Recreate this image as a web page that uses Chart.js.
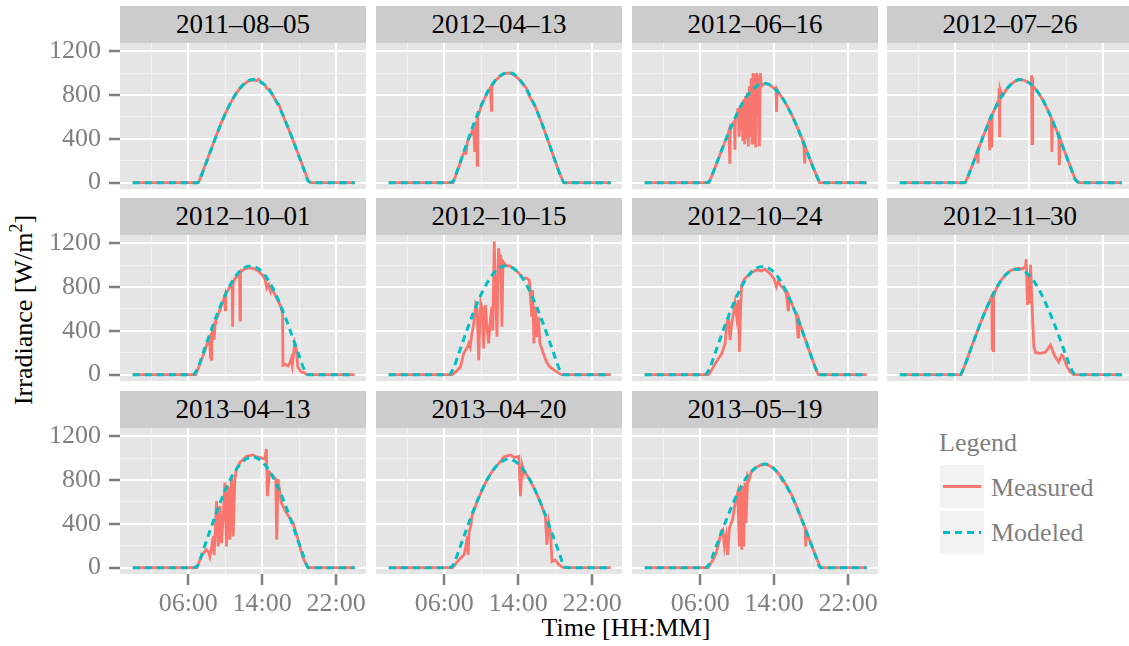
<!DOCTYPE html>
<html>
<head>
<meta charset="utf-8">
<title>Irradiance</title>
<script src="https://cdn.jsdelivr.net/npm/chart.js@4.4.1/dist/chart.umd.min.js"></script>
<style>
  html, body { margin: 0; padding: 0; background: #fff; overflow: hidden; }
  #page {
    position: relative; width: 1129px; height: 646px; overflow: hidden;
    font-family: 'Liberation Serif', 'Times New Roman', serif;
  }
  .strip {
    position: absolute; background: #CCCCCC; color: #000; font-size: 27px;
    display: flex; align-items: center; justify-content: center; line-height: 1;
  }
  canvas.panel { position: absolute; }
  .txt { position: absolute; font-size: 26px; line-height: 26px; white-space: nowrap; }
  .grey { color: #7F7F7F; }
  .key { position: absolute; width: 44px; height: 43px; background: #F2F2F2; }
  .key div { position: absolute; left: 3px; right: 3px; top: 20px; height: 3px; }
</style>
</head>
<body>
<div id="page">
  <div class="txt" style="left:426px; top:615px; width:400px; text-align:center;">Time [HH:MM]</div>
  <div class="txt" style="left:-125px; top:296px; width:300px; text-align:center; transform:rotate(-90deg);">Irradiance [W/m<span style="font-size:18px; position:relative; top:-10px;">2</span>]</div>

  <div class="txt grey" style="left:939px; top:430px;">Legend</div>
  <div class="key" style="left:940px; top:465px;"><div style="background:#F8766D;"></div></div>
  <div class="key" style="left:940px; top:511px;"><div style="background:repeating-linear-gradient(to right, #00BFC4 0 7px, transparent 7px 12px);"></div></div>
  <div class="txt grey" style="left:991px; top:475px;">Measured</div>
  <div class="txt grey" style="left:991px; top:520px;">Modeled</div>
</div>
<script>
// Facet titles, in panel order (4 per row)
const dates = ['2011–08–05', '2012–04–13', '2012–06–16', '2012–07–26',
               '2012–10–01', '2012–10–15', '2012–10–24', '2012–11–30',
               '2013–04–13', '2013–04–20', '2013–05–19'];

// Axis ticks (hours / W/m2); majors get labels and white grid lines
const xTicks = [2, 6, 10, 14, 18, 22];
const xMajor = [6, 14, 22];
const yTicks = [0, 200, 400, 600, 800, 1000, 1200];
const yMajor = [0, 400, 800, 1200];

// Clear-sky model, sampled on these hours
const modelHours = [0, 6, 6.5, 7, 7.5, 8, 8.5, 9, 9.5, 10, 10.5, 11, 11.5, 12, 12.5, 13,
                    13.5, 14, 14.5, 15, 15.5, 16, 16.5, 17, 17.5, 18, 18.5, 19, 19.5, 20, 24];

const modeled20110805 = [0, 0, 0, 0, 83, 195, 308, 421, 528, 627, 714, 790, 852, 898, 930, 942,
                         933, 910, 870, 815, 746, 660, 563, 460, 349, 234, 122, 11, 0, 0, 0];
const modeled20120413 = [0, 0, 0, 18, 131, 253, 375, 492, 604, 706, 798, 872, 931, 972, 996, 1004,
                         991, 954, 905, 836, 754, 658, 553, 437, 316, 194, 80, 0, 0, 0, 0];
const modeled20120616 = [0, 0, 0, 16, 118, 227, 337, 442, 542, 634, 717, 784, 836, 874, 897, 905,
                         893, 860, 817, 757, 683, 599, 504, 401, 292, 183, 80, 0, 0, 0, 0];
const modeled20120726 = [0, 0, 0, 0, 84, 194, 306, 418, 525, 623, 710, 786, 848, 895, 927, 940,
                         932, 910, 871, 818, 749, 665, 569, 466, 357, 245, 133, 26, 0, 0, 0];
const modeled20121001 = [0, 0, 0, 56, 171, 292, 411, 524, 631, 727, 812, 883, 939, 972, 990, 989,
                         971, 936, 883, 811, 726, 629, 522, 408, 289, 169, 55, 0, 0, 0, 0];
const modeled20121015 = [0, 0, 0, 60, 177, 298, 417, 531, 638, 734, 817, 888, 941, 975, 991, 988,
                         968, 932, 877, 803, 715, 617, 509, 393, 274, 153, 40, 0, 0, 0, 0];
const modeled20121024 = [0, 0, 0, 56, 170, 290, 409, 521, 628, 723, 808, 879, 934, 967, 985, 984,
                         966, 931, 878, 807, 722, 626, 519, 406, 287, 168, 52, 0, 0, 0, 0];
const modeled20121130 = [0, 0, 0, 79, 192, 307, 420, 529, 629, 720, 798, 864, 914, 946, 961, 958,
                         940, 905, 853, 784, 702, 609, 507, 398, 283, 169, 59, 0, 0, 0, 0];
const modeled20130413 = [0, 0, 0, 18, 130, 252, 374, 491, 603, 706, 797, 873, 931, 975, 1001, 1010,
                         997, 965, 915, 849, 770, 676, 572, 458, 336, 214, 99, 0, 0, 0, 0];
const modeled20130420 = [0, 0, 0, 28, 139, 256, 373, 487, 595, 694, 782, 855, 913, 954, 980, 990,
                         978, 947, 901, 839, 764, 676, 574, 465, 349, 233, 116, 8, 0, 0, 0];
const modeled20130519 = [0, 0, 0, 36, 143, 255, 367, 475, 578, 672, 754, 823, 876, 914, 936, 945,
                         932, 902, 855, 795, 720, 634, 539, 433, 322, 212, 101, 0, 0, 0, 0];

// Pyranometer readings as [hour, W/m2]
const measured20110805 = [[0,0],[7.1,0],[7.5,85],[8,198],[8.5,312],[9,424],[9.5,530],[10,630],[10.5,716],
  [11,792],[11.5,850],[12,896],[12.5,926],[13,938],[13.4,930],[13.6,944],[14,905],[14.3,890],[14.5,858],
  [14.8,850],[15,820],[15.5,738],[15.8,715],[16,668],[16.5,560],[17,458],[17.5,348],[18,236],[18.5,124],
  [19,14],[19.3,0],[24,0]];
const measured20120413 = [[0,0],[6.95,0],[7.5,125],[8,250],[8.3,300],[8.35,255],[8.5,372],[8.9,440],[9,470],
  [9.2,480],[9.3,280],[9.35,470],[9.5,560],[9.57,158],[9.62,600],[10,700],[10.5,792],[11,868],[11.1,660],
  [11.15,880],[11.5,928],[12,970],[12.5,995],[13,1000],[13.5,985],[14,950],[14.5,900],[14.9,860],[15.2,790],
  [15.6,730],[15.8,705],[16,660],[16.5,553],[17,435],[17.5,318],[18,195],[18.5,80],[18.9,0],[24,0]];
const measured20120616 = [[0,0],[6.95,0],[7.5,115],[8,225],[8.5,335],[9,440],[9.1,470],[9.2,173],[9.25,480],
  [9.5,540],[9.7,560],[9.75,300],[9.8,590],[10,630],[10.1,680],[10.2,420],[10.3,700],[10.4,480],[10.5,720],
  [10.6,380],[10.7,760],[10.8,350],[10.9,790],[11,400],[11.1,820],[11.2,330],[11.3,880],[11.4,420],
  [11.5,950],[11.6,360],[11.7,1000],[11.8,500],[11.9,990],[12,320],[12.1,1000],[12.2,600],[12.3,980],
  [12.4,330],[12.5,1000],[12.6,880],[13,905],[13.5,893],[14,860],[14.2,855],[14.25,645],[14.3,850],
  [14.5,817],[15,757],[15.5,683],[16,599],[16.5,504],[17,401],[17.2,340],[17.3,173],[17.35,330],
  [17.5,292],[18,183],[18.5,80],[18.9,0],[24,0]];
const measured20120726 = [[0,0],[7.1,0],[7.5,84],[8,194],[8.4,290],[8.45,175],[8.5,306],[8.8,370],[9,418],
  [9.3,480],[9.5,525],[9.65,560],[9.7,295],[9.75,570],[9.9,600],[9.95,320],[10,623],[10.3,680],[10.5,710],
  [10.7,760],[10.75,860],[10.8,416],[10.85,850],[10.95,820],[11,786],[11.1,790],[11.5,848],[12,895],
  [12.5,927],[13,940],[13.5,932],[14,910],[14.2,895],[14.25,980],[14.3,356],[14.35,960],[14.4,890],
  [14.5,871],[15,818],[15.5,749],[16,665],[16.4,590],[16.45,280],[16.5,569],[17,466],[17.2,420],
  [17.25,158],[17.35,400],[17.5,357],[18,245],[18.5,133],[19,26],[19.4,0],[24,0]];
const measured20121001 = [[0,0],[6.8,0],[7,40],[7.5,150],[8,270],[8.3,330],[8.4,160],[8.45,360],[8.5,140],
  [8.55,370],[8.7,420],[8.8,320],[8.9,470],[9,500],[9.3,560],[9.5,610],[9.8,680],[9.95,720],[10,590],
  [10.05,740],[10.3,770],[10.5,800],[10.75,820],[10.8,437],[10.85,830],[11,870],[11.3,900],[11.55,930],
  [11.6,498],[11.65,935],[12,960],[12.5,975],[13,970],[13.5,950],[14,910],[14.3,870],[14.5,790],
  [14.7,820],[14.9,760],[15,790],[15.5,710],[16,620],[16.2,560],[16.25,85],[16.5,95],[16.8,80],[17,110],
  [17.15,147],[17.25,90],[17.4,200],[17.5,284],[17.7,223],[17.85,70],[18.2,25],[18.6,15],[18.8,0],[24,0]];
const measured20121015 = [[0,0],[6.85,0],[7.3,30],[7.75,70],[8.1,192],[8.3,223],[8.5,250],[8.65,284],
  [8.8,250],[8.95,350],[9.1,421],[9.25,500],[9.4,635],[9.55,600],[9.73,131],[9.85,480],[9.95,650],
  [10.1,600],[10.27,238],[10.35,500],[10.45,635],[10.6,450],[10.8,284],[10.95,467],[11.15,620],
  [11.25,400],[11.41,1215],[11.55,773],[11.7,345],[11.88,1154],[12,1047],[12.1,1093],[12.24,437],
  [12.35,1032],[12.6,1002],[12.8,995],[13.1,990],[13.5,968],[14,932],[14.5,877],[14.9,880],[15.2,864],
  [15.35,680],[15.46,528],[15.55,773],[15.7,284],[15.85,620],[16,345],[16.18,528],[16.35,284],
  [16.72,192],[17.05,116],[17.43,70],[18.15,25],[18.69,0],[24,0]];
const measured20121024 = [[0,0],[6.9,0],[7.3,50],[7.6,100],[8,150],[8.33,192],[8.69,284],[8.87,467],
  [9.05,513],[9.23,315],[9.4,467],[9.6,560],[9.76,650],[9.94,528],[10.12,680],[10.23,208],[10.37,620],
  [10.48,818],[10.84,879],[11.2,905],[11.56,931],[12,950],[12.27,956],[12.6,945],[12.99,962],[13.3,940],
  [13.7,910],[14,870],[14.24,803],[14.42,849],[14.7,810],[15,790],[15.3,740],[15.5,590],[15.55,720],
  [16,626],[16.4,540],[16.57,345],[16.65,500],[17,406],[17.5,287],[18,168],[18.5,52],[18.75,0],[24,0]];
const measured20121130 = [[0,0],[6.65,0],[7,79],[7.5,192],[8,307],[8.5,420],[9,529],[9.5,629],[9.95,712],
  [10,240],[10.05,700],[10.1,220],[10.15,715],[10.5,798],[11,866],[11.5,918],[12,950],[12.5,965],
  [12.88,971],[13.24,962],[13.6,986],[13.67,1053],[13.81,635],[13.9,925],[14.03,650],[14.14,1002],
  [14.3,650],[14.5,253],[14.7,200],[15.2,195],[15.75,205],[16.05,240],[16.3,270],[16.65,192],[16.9,150],
  [17.2,116],[17.5,177],[17.7,161],[18.1,70],[18.44,25],[18.8,0],[24,0]];
const measured20130413 = [[0,0],[6.95,0],[7.26,70],[7.62,132],[7.98,163],[8.2,140],[8.34,100],[8.55,200],
  [8.7,285],[8.8,117],[8.9,300],[9.06,607],[9.15,400],[9.24,193],[9.42,561],[9.6,224],[9.8,500],
  [9.96,776],[10.14,193],[10.32,745],[10.5,255],[10.68,837],[10.86,285],[11.04,807],[11.22,900],
  [11.58,960],[12,990],[12.3,1015],[13,1028],[13.4,1010],[13.73,1006],[14.27,990],[14.45,1083],
  [14.56,653],[14.8,868],[15.17,837],[15.46,807],[15.57,255],[15.71,807],[16.07,592],[16.61,500],
  [17.33,408],[17.87,255],[18.41,86],[18.95,0],[24,0]];
const measured20130420 = [[0,0],[6.9,0],[7.43,55],[7.8,90],[8.15,117],[8.33,193],[8.5,285],[8.58,117],
  [8.69,330],[8.87,377],[9,470],[9.5,590],[10,690],[10.5,780],[11,855],[11.5,915],[12,960],[12.45,1010],
  [12.8,1020],[13.17,1028],[13.6,1005],[14.06,1015],[14.24,653],[14.42,930],[14.5,900],[15,835],
  [15.5,760],[16,672],[16.5,572],[16.93,470],[17.1,209],[17.3,408],[17.5,300],[17.65,55],[18,70],
  [18.4,25],[18.9,0],[24,0]];
const measured20130519 = [[0,0],[6.85,0],[7.3,60],[7.72,132],[8,224],[8.26,331],[8.44,347],[8.62,193],
  [8.8,285],[8.97,117],[9.15,362],[9.5,439],[9.8,600],[10.05,684],[10.23,193],[10.34,715],[10.48,163],
  [10.59,745],[10.7,193],[10.84,776],[10.95,408],[11.13,837],[11.3,807],[11.5,870],[12,912],[12.5,935],
  [13,945],[13.5,930],[14,900],[14.5,855],[14.9,790],[15.1,780],[15.5,720],[15.96,653],[16.5,540],
  [17,433],[17.35,360],[17.4,193],[17.48,330],[18,212],[18.5,101],[19,0],[24,0]];

const measuredSeries = [measured20110805, measured20120413, measured20120616, measured20120726,
  measured20121001, measured20121015, measured20121024, measured20121130,
  measured20130413, measured20130420, measured20130519];
const modeledSeries = [modeled20110805, modeled20120413, modeled20120616, modeled20120726,
  modeled20121001, modeled20121015, modeled20121024, modeled20121130,
  modeled20130413, modeled20130420, modeled20130519];

// Facet grid geometry (plot areas)
const colLeft = [120, 376, 632, 887];
const rowTop = [43, 235, 428];
const plotW = 246, plotH = 146, stripH = 37;
// canvas margin around each plot area, big enough for overhanging tick labels
const PAD = { left: 120, top: 30, right: 40, bottom: 60 };
const X_AXIS_H = 50;

const serif = "'Liberation Serif', 'Times New Roman', serif";
Chart.defaults.font.family = serif;
Chart.defaults.font.size = 26;

// grey panel background behind the grid
const panelBg = {
  id: 'panelBg',
  beforeDraw(chart) {
    const a = chart.chartArea, c = chart.ctx;
    c.save();
    c.fillStyle = '#E5E5E5';
    c.fillRect(a.left, a.top, a.right - a.left, a.bottom - a.top);
    c.restore();
  }
};

function hhmm(v) {
  return (v < 10 ? '0' : '') + v + ':00';
}

const page = document.getElementById('page');

dates.forEach((date, i) => {
  const col = i % 4, row = Math.floor(i / 4);
  const showY = col === 0, showX = row === 2;

  const strip = document.createElement('div');
  strip.className = 'strip';
  strip.style.left = colLeft[col] + 'px';
  strip.style.top = (rowTop[row] - stripH) + 'px';
  strip.style.width = plotW + 'px';
  strip.style.height = stripH + 'px';
  strip.textContent = date;
  page.appendChild(strip);

  const cv = document.createElement('canvas');
  cv.className = 'panel';
  cv.width = PAD.left + plotW + PAD.right;
  cv.height = PAD.top + plotH + PAD.bottom;
  cv.style.left = (colLeft[col] - PAD.left) + 'px';
  cv.style.top = (rowTop[row] - PAD.top) + 'px';
  page.appendChild(cv);

  new Chart(cv, {
    type: 'line',
    data: {
      datasets: [{
        label: 'Measured',
        data: measuredSeries[i],
        borderColor: '#F8766D',
        borderWidth: 2.8,
        pointRadius: 0,
        tension: 0,
        order: 1
      }, {
        // dashed model curve goes on top of the measurements
        label: 'Modeled',
        data: modelHours.map((h, k) => [h, modeledSeries[i][k]]),
        borderColor: '#00BFC4',
        borderWidth: 3,
        borderDash: [7, 5],
        borderCapStyle: 'butt',
        pointRadius: 0,
        cubicInterpolationMode: 'monotone',
        order: 0
      }]
    },
    options: {
      responsive: false,
      devicePixelRatio: 1,
      animation: false,
      events: [],
      layout: {
        padding: {
          left: showY ? 0 : PAD.left,
          top: PAD.top,
          right: PAD.right,
          bottom: showX ? PAD.bottom - X_AXIS_H : PAD.bottom
        }
      },
      plugins: { legend: { display: false }, tooltip: { enabled: false } },
      scales: {
        x: {
          type: 'linear',
          min: -1.38,
          max: 25.22,
          afterBuildTicks: s => { s.ticks = xTicks.map(v => ({ value: v })); },
          afterFit: s => { s.height = showX ? X_AXIS_H : 0; },
          border: { display: false },
          grid: {
            color: c => xMajor.includes(c.tick.value) ? '#FFFFFF' : '#F2F2F2',
            lineWidth: c => xMajor.includes(c.tick.value) ? 2 : 1,
            drawTicks: showX,
            tickLength: 11,
            tickWidth: 2.5,
            tickColor: c => xMajor.includes(c.tick.value) ? '#7F7F7F' : 'rgba(0,0,0,0)'
          },
          ticks: {
            display: showX,
            autoSkip: false,
            maxRotation: 0,
            padding: 4,
            color: '#7F7F7F',
            font: { family: serif, size: 26 },
            callback: v => xMajor.includes(v) ? hhmm(v) : ''
          }
        },
        y: {
          type: 'linear',
          min: -58,
          max: 1274,
          afterBuildTicks: s => { s.ticks = yTicks.map(v => ({ value: v })); },
          afterFit: s => { s.width = showY ? PAD.left : 0; },
          border: { display: false },
          grid: {
            color: c => yMajor.includes(c.tick.value) ? '#FFFFFF' : '#F2F2F2',
            lineWidth: c => yMajor.includes(c.tick.value) ? 2 : 1,
            drawTicks: showY,
            tickLength: 11,
            tickWidth: 2.5,
            tickColor: c => yMajor.includes(c.tick.value) ? '#7F7F7F' : 'rgba(0,0,0,0)'
          },
          ticks: {
            display: showY,
            autoSkip: false,
            padding: 8,
            color: '#7F7F7F',
            font: { family: serif, size: 26 },
            callback: v => yMajor.includes(v) ? String(v) : ''
          }
        }
      }
    },
    plugins: [panelBg]
  });
});
</script>
</body>
</html>
